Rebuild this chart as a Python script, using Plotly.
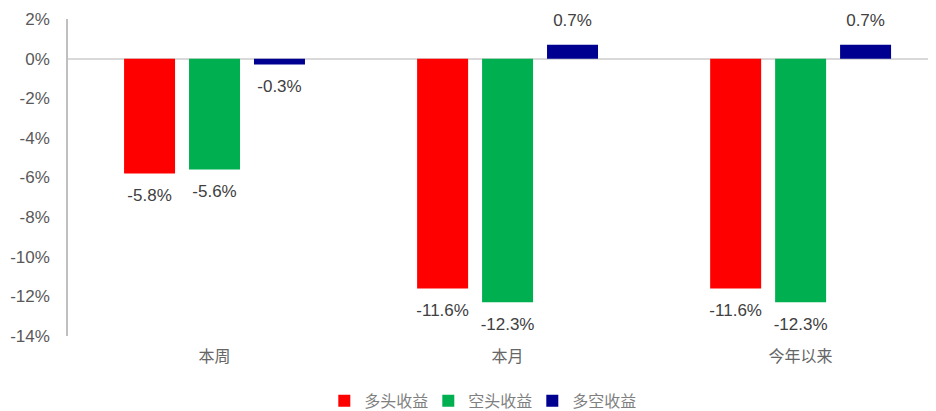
import plotly.graph_objects as go

categories = ["本周", "本月", "今年以来"]
long_ret = [-5.8, -11.6, -11.6]
short_ret = [-5.6, -12.3, -12.3]
ls_ret = [-0.3, 0.7, 0.7]
series_names = ["多头收益", "空头收益", "多空收益"]
colors = ["#FF0000", "#00B050", "#000090"]
tick_vals = [2, 0, -2, -4, -6, -8, -10, -12, -14]
tick_text = [f"{v}%" for v in tick_vals]

FONT = "Liberation Sans, Arial, Noto Sans CJK SC, sans-serif"
CJK = "Noto Sans CJK SC, sans-serif"

fig = go.Figure()
for i, (name, vals, col) in enumerate(zip(series_names, [long_ret, short_ret, ls_ret], colors)):
    fig.add_trace(go.Bar(
        x=categories, y=vals, name=name, marker_color=col,
        marker_line_width=0, offsetgroup=str(i),
    ))
for i, vals in enumerate([long_ret, short_ret, ls_ret]):
    fig.add_trace(go.Scatter(
        x=categories, y=vals, mode="markers+text", offsetgroup=str(i),
        marker=dict(size=22, opacity=0, color="white"),
        text=[f"{v:.1f}%" for v in vals],
        textposition=["top center" if v > 0 else "bottom center" for v in vals],
        textfont=dict(size=17, color="#404040", family=FONT),
        showlegend=False, hoverinfo="skip", cliponaxis=False,
    ))

# page body has an 8px default margin, so the figure is sized to fit the window
fig.update_layout(
    width=928, height=403,
    margin=dict(l=60, r=0, t=11, b=75, autoexpand=False),
    paper_bgcolor="white", plot_bgcolor="white",
    barmode="group", bargap=0.335, bargroupgap=0.215,
    scattermode="group", scattergap=0.335,
    font=dict(family=FONT, size=16, color="#595959"),
    legend=dict(orientation="h", x=0.475, xanchor="center",
                yref="container", y=0.025, yanchor="middle",
                font=dict(size=16, color="#7F7F7F", family=CJK),
                entrywidth=59, traceorder="normal"),
    showlegend=True,
)
fig.update_xaxes(range=[-0.5, 2.462], showline=False, showgrid=False, zeroline=False,
                 automargin=False,
                 ticks="outside", ticklen=6, tickcolor="rgba(0,0,0,0)",
                 tickfont=dict(size=16, color="#666666", family=CJK))
fig.update_yaxes(range=[-14, 2], tickvals=tick_vals, ticktext=tick_text,
                 automargin=False,
                 showgrid=False, zeroline=True, zerolinecolor="#D9D9D9", zerolinewidth=1.5,
                 showline=True, linecolor="#BFBFBF", linewidth=1.5,
                 tickfont=dict(size=17, color="#595959", family=FONT),
                 ticks="outside", ticklen=13, tickcolor="rgba(0,0,0,0)")

fig.write_html("out.html")
